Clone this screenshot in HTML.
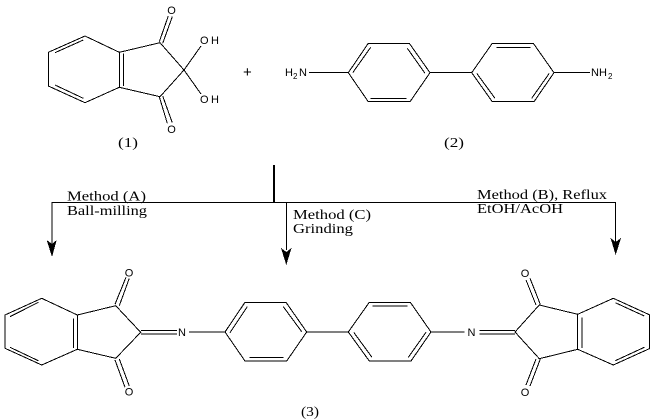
<!DOCTYPE html>
<html>
<head>
<meta charset="utf-8">
<style>
html,body{margin:0;padding:0;background:#fff;width:656px;height:420px;overflow:hidden}
svg{display:block}
.s{font-family:"Liberation Sans",sans-serif;font-size:11px;fill:#000}
.plus{font-family:"Liberation Sans",sans-serif;font-size:15px;fill:#000}
.sub{font-family:"Liberation Sans",sans-serif;font-size:8px;fill:#000}
.t{font-family:"Liberation Serif",serif;font-size:14px;fill:#000}
</style>
</head>
<body>
<svg width="656" height="420" viewBox="0 0 656 420" xmlns="http://www.w3.org/2000/svg">
<g fill="none" stroke="#000" stroke-width="1" shape-rendering="crispEdges">
<!-- compound 1 -->
<path d="M85 36L48.3 52.3V86L85 102.7L119.3 87.3V52.3ZM119.3 52.3L160 42.7L184 70L160 96.7L119.3 87.3"/>
<path d="M83.3 40L55 52.7M55 85L83.3 98.3M123.3 53.3V86"/>
<path d="M159.3 41.7L168.3 16M162.7 43.3L172.3 16.7M159.3 96.7L167.3 123.3M162.7 96L172.3 122.7"/>
<path d="M184 70L201 46M184 70L201 94"/>
<!-- compound 2 -->
<path d="M348.3 72.7L368.3 43.3H409.3L430 72.7L410 101.7H368.3ZM430 72.7H471.7L492.3 43.3H533.3L554 72.7L534 101.7H492.3L471.7 72.7"/>
<path d="M352.7 72.7L370.7 47.3M407.3 48.3L425 73.3M370.7 98.3H406.7M496.7 47.3H530.7M476.7 73.3L495 98.3M531.7 98.3L549.3 73.3"/>
<path d="M309 72.7H348.3M554 72.7H590"/>
<!-- compound 3 left -->
<path d="M41.7 298.3L5 315V348.3L41.7 365L77.3 349.3V315ZM77.3 315L115.7 305.7L140.7 332.3L115.7 358.3L77.3 349.3"/>
<path d="M10 316.7L38.3 302.3M10 347.3L38.3 360.7M73.3 318.3V348"/>
<path d="M115 304.3L126 277.3M119.3 305.7L129.3 278.3M115 360L125 387.3M119.3 359L129.3 386"/>
<path d="M141 330.7H177M141 334H177M189 332H225"/>
<path d="M225 332L245 302.3H286L306.7 332L286.7 361H245ZM306.7 332H348.3L369.3 302.3H410.3L431 332L411 361H369.3L348.3 332"/>
<path d="M230 332.7L247.3 306.7M283.3 306.7L301.7 331.7M249.3 357.3H283.3M372.7 306H407.7M353.7 332.3L372 357.3M408.3 357.3L426 332.3"/>
<!-- compound 3 right -->
<path d="M431 332H464.3M479.3 330.7H515M479.3 334H515"/>
<path d="M515 332L539.3 305L577.7 314.3V349.3L539.3 358.7L515 332M577.7 314.3L613.3 298.3L649.3 314.7V348.7L613.3 365L577.7 349.3"/>
<path d="M582 317.3V348M615.3 302.7L644.3 316M615.3 360.7L644.3 347.3"/>
<path d="M526 280L536 305M530 278.3L540.3 304.3M530 386L540.3 359M526 385L536 359"/>
<!-- arrows -->
<path d="M52 240V202.3H615.7V240M286.3 202.3V250M52 240V250M615.7 240V246"/>
<path d="M274 165V202" stroke-width="2"/>
</g>
<g fill="#000" shape-rendering="crispEdges">
<polygon points="46.7,240 52,244 56.7,240 52,257"/>
<polygon points="281,248 286.3,252 291.5,248 286.3,265"/>
<polygon points="610.5,238 615.7,242 621,238 615.7,255"/>
</g>
<g class="s">
<text class="s" x="171.5" y="14" text-anchor="middle">O</text>
<text class="s" x="171.5" y="133" text-anchor="middle">O</text>
<text class="s" x="200" y="44" textLength="19">OH</text>
<text class="s" x="200" y="103" textLength="19">OH</text>
<text class="plus" x="243" y="77">+</text>
<text class="s" x="285" y="76">H</text><text class="sub" x="293" y="79">2</text><text class="s" x="299" y="76">N</text>
<text class="s" x="591" y="76">N</text><text class="s" x="599" y="76">H</text><text class="sub" x="608" y="79">2</text>
<text class="s" x="129" y="276.5" text-anchor="middle">O</text>
<text class="s" x="129" y="395.5" text-anchor="middle">O</text>
<text class="s" x="182" y="336" text-anchor="middle">N</text>
<text class="s" x="471.5" y="336" text-anchor="middle">N</text>
<text class="s" x="525" y="277" text-anchor="middle">O</text>
<text class="s" x="525" y="396" text-anchor="middle">O</text>
</g>
<text class="t" x="118" y="147" textLength="20" lengthAdjust="spacingAndGlyphs">(1)</text>
<text class="t" x="444" y="147" textLength="20" lengthAdjust="spacingAndGlyphs">(2)</text>
<text class="t" x="301" y="416" textLength="18" lengthAdjust="spacingAndGlyphs">(3)</text>
<text class="t" x="67" y="200.5" textLength="79" lengthAdjust="spacingAndGlyphs">Method (A)</text>
<text class="t" x="67" y="215" textLength="80" lengthAdjust="spacingAndGlyphs">Ball-milling</text>
<text class="t" x="293" y="219" textLength="78" lengthAdjust="spacingAndGlyphs">Method (C)</text>
<text class="t" x="293" y="233" textLength="60" lengthAdjust="spacingAndGlyphs">Grinding</text>
<text class="t" x="477" y="199" textLength="130" lengthAdjust="spacingAndGlyphs">Method (B), Reflux</text>
<text class="t" x="477" y="213" textLength="86" lengthAdjust="spacingAndGlyphs">EtOH/AcOH</text>
</svg>
</body>
</html>
